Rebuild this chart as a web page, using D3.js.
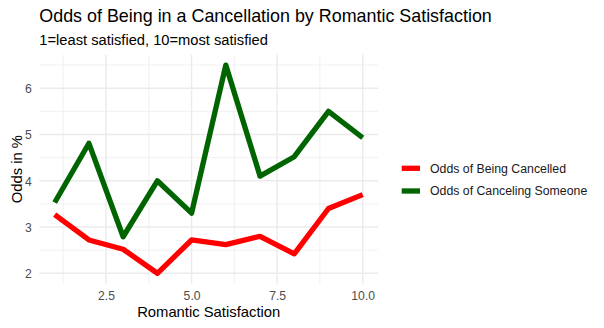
<!DOCTYPE html>
<html>
<head>
<meta charset="utf-8">
<script src="https://cdn.jsdelivr.net/npm/d3@7"></script>
<style>
  html, body { margin: 0; padding: 0; background: #fff; }
  svg { display: block; font-family: "Liberation Sans", Arial, sans-serif; }
</style>
</head>
<body>
<svg id="chart" width="604" height="328"></svg>
<script>
// ---- data ----
const satisfaction = [1, 2, 3, 4, 5, 6, 7, 8, 9, 10];
const beingCancelled = [3.27, 2.72, 2.52, 2.0, 2.72, 2.62, 2.8, 2.42, 3.4, 3.7];
const cancelingSomeone = [3.53, 4.81, 2.79, 4.0, 3.3, 6.5, 4.1, 4.52, 5.5, 4.93];
const seriesNames = ["Odds of Being Cancelled", "Odds of Canceling Someone"];
const seriesColors = ["#FF0000", "#006400"];
const xTicks = [2.5, 5.0, 7.5, 10.0];
const xMinor = [1.25, 3.75, 6.25, 8.75];
const yTicks = [2, 3, 4, 5, 6];
const yMinor = [2.5, 3.5, 4.5, 5.5, 6.5];

const titleText = "Odds of Being in a Cancellation by Romantic Satisfaction";
const subtitleText = "1=least satisfied, 10=most satisfied";
const xTitle = "Romantic Satisfaction";
const yTitle = "Odds in %";

// ---- layout ----
const svg = d3.select("#chart");
const panel = { left: 39.3, right: 378.1, top: 54.7, bottom: 283.7 };

const allVals = beingCancelled.concat(cancelingSomeone);
const xExt = d3.extent(satisfaction);
const yExt = d3.extent(allVals);
const xPad = (xExt[1] - xExt[0]) * 0.05;
const yPad = (yExt[1] - yExt[0]) * 0.05;

const x = d3.scaleLinear().domain([xExt[0] - xPad, xExt[1] + xPad]).range([panel.left, panel.right]);
const y = d3.scaleLinear().domain([yExt[0] - yPad, yExt[1] + yPad]).range([panel.bottom, panel.top]);

const grid = svg.append("g");
// minor grid
grid.selectAll(".xminor").data(xMinor).join("line")
  .attr("x1", d => x(d)).attr("x2", d => x(d))
  .attr("y1", panel.top).attr("y2", panel.bottom)
  .attr("stroke", "#EBEBEB").attr("stroke-width", 0.71);
grid.selectAll(".yminor").data(yMinor).join("line")
  .attr("y1", d => y(d)).attr("y2", d => y(d))
  .attr("x1", panel.left).attr("x2", panel.right)
  .attr("stroke", "#EBEBEB").attr("stroke-width", 0.71);
// major grid
grid.selectAll(".xmajor").data(xTicks).join("line")
  .attr("x1", d => x(d)).attr("x2", d => x(d))
  .attr("y1", panel.top).attr("y2", panel.bottom)
  .attr("stroke", "#EBEBEB").attr("stroke-width", 1.42);
grid.selectAll(".ymajor").data(yTicks).join("line")
  .attr("y1", d => y(d)).attr("y2", d => y(d))
  .attr("x1", panel.left).attr("x2", panel.right)
  .attr("stroke", "#EBEBEB").attr("stroke-width", 1.42);

// axes (tick labels)
const xAxis = d3.axisBottom(x).tickValues(xTicks).tickFormat(d3.format(".1f")).tickSize(0).tickPadding(0);
const gx = svg.append("g").attr("transform", `translate(0,${panel.bottom})`).call(xAxis);
gx.select(".domain").remove();
gx.selectAll("text").attr("fill", "#4D4D4D").attr("font-size", "12.2px")
  .attr("font-family", "Liberation Sans, Arial, sans-serif")
  .attr("dy", null).attr("y", 16.8);

const yAxis = d3.axisLeft(y).tickValues(yTicks).tickFormat(d3.format("d")).tickSize(0).tickPadding(0);
const gy = svg.append("g").attr("transform", `translate(${panel.left},0)`).call(yAxis);
gy.select(".domain").remove();
gy.selectAll("text").attr("fill", "#4D4D4D").attr("font-size", "12.2px")
  .attr("font-family", "Liberation Sans, Arial, sans-serif")
  .attr("x", -7.5).attr("dy", "0.35em");

// lines
const seriesData = [beingCancelled, cancelingSomeone];
const line = d3.line().x((d, i) => x(satisfaction[i])).y(d => y(d));
svg.append("g").selectAll("path").data(seriesData).join("path")
  .attr("d", line)
  .attr("fill", "none")
  .attr("stroke", (d, i) => seriesColors[i])
  .attr("stroke-width", 5.3)
  .attr("stroke-linejoin", "round")
  .attr("stroke-linecap", "butt");

// titles
svg.append("text").attr("x", panel.left).attr("y", 21.8)
  .attr("font-size", "17.9px").attr("fill", "#000").text(titleText);
svg.append("text").attr("x", panel.left).attr("y", 45)
  .attr("font-size", "14.7px").attr("fill", "#000").text(subtitleText);

svg.append("text").attr("x", (panel.left + panel.right) / 2).attr("y", 317)
  .attr("text-anchor", "middle").attr("font-size", "14.8px").attr("fill", "#000").text(xTitle);
svg.append("text")
  .attr("transform", `translate(21.5,${(panel.top + panel.bottom) / 2}) rotate(-90)`)
  .attr("text-anchor", "middle").attr("font-size", "14.8px").attr("fill", "#000").text(yTitle);

// legend
const legend = svg.append("g");
const legY = [168.3, 191];
const lg = legend.selectAll("g").data(seriesNames).join("g")
  .attr("transform", (d, i) => `translate(401.7,${legY[i]})`);
lg.append("line").attr("x1", 0).attr("x2", 18.3).attr("y1", 0).attr("y2", 0)
  .attr("stroke", (d, i) => seriesColors[i]).attr("stroke-width", 5.3);
lg.append("text").attr("x", 28.3).attr("dy", "0.35em")
  .attr("font-size", "12.3px").attr("fill", "#1a1a1a").text(d => d);
</script>
</body>
</html>
